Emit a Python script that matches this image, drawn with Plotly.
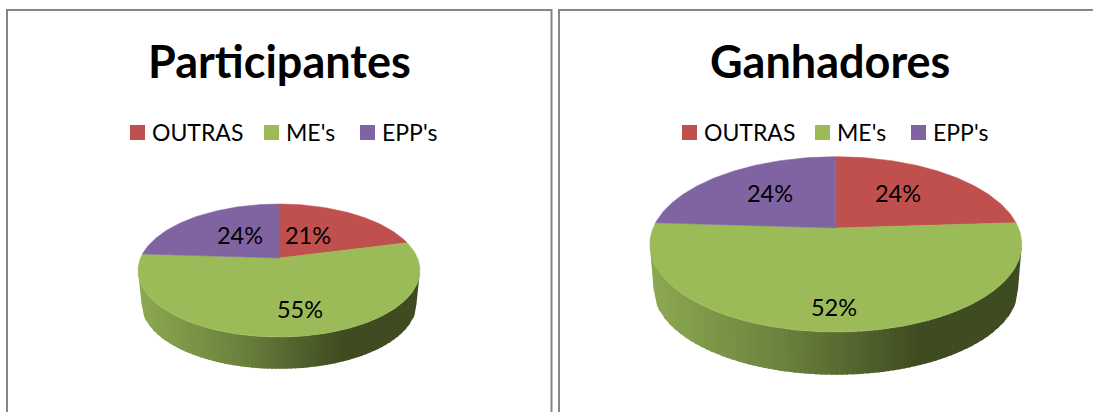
import numpy as np
import plotly.graph_objects as go

CATEGORIES = ["OUTRAS", "ME's", "EPP's"]
PARTICIPANTES = [21, 55, 24]
GANHADORES = [24, 52, 24]
TITLES = ["Participantes", "Ganhadores"]
COLORS = ["#C0504D", "#9BBB59", "#8064A2"]
FONT = "Lato"

# layout of each panel, in page pixels
PANELS = [
    dict(cx=279.0, y0=258.0, far=54.0, near=79.0, rx=141.0, depth=33.5, shrink=0.975,
         title_x=279, legend_sq=[137.5, 271.5, 367.5],
         label_xy=[(308, 238), (300, 312), (240, 238)]),
    dict(cx=835.8, y0=228.0, far=71.3, near=104.0, rx=186.0, depth=44.5, shrink=0.98,
         title_x=830, legend_sq=[689.5, 822.5, 918.5],
         label_xy=[(898, 196), (834, 310), (770, 196)]),
]
STOPS = [(0.0, (139, 168, 80)), (0.35, (106, 130, 62)), (0.72, (63, 75, 32)), (1.0, (63, 75, 32))]


def geometry(g):
    p = (g["near"] - g["far"]) / (g["near"] + g["far"])
    h = g["far"] * (1 + p)
    k = g["rx"] * np.sqrt(1 - p * p)
    return p, h, k


def wedge_points(g, a0, a1):
    p, h, k = geometry(g)
    th = np.radians(np.linspace(a0, a1, max(int(abs(a1 - a0)), 2) + 1))
    u, v = np.sin(th), np.cos(th)
    d = 1 + p * v
    xs = g["cx"] + k * u / d
    ys = g["y0"] - h * v / d
    return [g["cx"], *xs, g["cx"]], [g["y0"], *ys, g["y0"]]


def grad(t):
    for (t0, c0), (t1, c1) in zip(STOPS, STOPS[1:]):
        if t <= t1:
            f = (t - t0) / (t1 - t0)
            c = [round(a + (b - a) * f) for a, b in zip(c0, c1)]
            return f"rgb({c[0]},{c[1]},{c[2]})"
    return "rgb(63,75,32)"


fig = go.Figure()

for g, values in zip(PANELS, [PARTICIPANTES, GANHADORES]):
    p, h, k = geometry(g)
    ry = h / (1 - p * p)
    cy = g["y0"] + h * p / (1 - p * p)
    n = 70
    ts = np.linspace(-1, 1, n + 1)
    for i in range(n):
        t = np.linspace(ts[i], ts[i + 1] + 0.01 if i < n - 1 else ts[i + 1], 3)
        t = np.clip(t, -1, 1)
        s = np.sqrt(1 - t * t)
        xt = g["cx"] + g["rx"] * t
        yt = cy + ry * s
        xb = g["cx"] + g["rx"] * g["shrink"] * t
        yb = cy + g["depth"] + ry * g["shrink"] * s
        fig.add_trace(go.Scatter(
            x=[*xt, *xb[::-1], xt[0]], y=[*yt, *yb[::-1], yt[0]],
            mode="lines", fill="toself", fillcolor=grad((ts[i] + 1) / 2),
            line=dict(width=0), hoverinfo="skip", showlegend=False))
    total = sum(values)
    a = 0.0
    for val, color, name in zip(values, COLORS, CATEGORIES):
        a1 = a + 360.0 * val / total
        xs, ys = wedge_points(g, a, a1)
        fig.add_trace(go.Scatter(
            x=xs, y=ys, mode="lines", fill="toself", fillcolor=color,
            line=dict(width=0.5, color=color), name=name, showlegend=False, hoverinfo="name"))
        a = a1
    fig.add_trace(go.Scatter(
        x=[q[0] for q in g["label_xy"]], y=[q[1] for q in g["label_xy"]],
        mode="text", text=[f"{v}%" for v in values],
        textfont=dict(family=FONT, size=23.5, color="#000000"),
        textposition="middle center", hoverinfo="skip", showlegend=False))
    fig.add_trace(go.Scatter(
        x=g["legend_sq"], y=[132.5] * 3, mode="markers",
        marker=dict(symbol="square", size=15, color=COLORS, line=dict(width=0)),
        hoverinfo="skip", showlegend=False))
    for lx, name in zip(g["legend_sq"], CATEGORIES):
        fig.add_annotation(x=lx + 12.5, y=132, text=name, showarrow=False, xanchor="left",
                           yanchor="middle",
                           font=dict(family=FONT, size=23, color="#000000"))

for g, title in zip(PANELS, TITLES):
    fig.add_annotation(x=g["title_x"], y=61, text=f"<b>{title}</b>", showarrow=False,
                       xanchor="center", yanchor="middle",
                       font=dict(family=FONT, size=45, color="#000000"))

FRAME = "#868686"
fig.add_shape(type="path", path="M 7 420 L 7 10 L 551.5 10 L 551.5 420",
              line=dict(color=FRAME, width=2), layer="below")
fig.add_shape(type="path", path="M 559 420 L 559 10 L 1100 10",
              line=dict(color=FRAME, width=2), layer="below")

fig.update_layout(
    width=1093, height=412, margin=dict(l=0, r=0, t=0, b=0),
    paper_bgcolor="#FFFFFF", plot_bgcolor="#FFFFFF", showlegend=False,
    xaxis=dict(range=[0, 1093], visible=False, fixedrange=True),
    yaxis=dict(range=[412, 0], visible=False, fixedrange=True),
)
fig.write_html("out.html", config={"displayModeBar": False},
               post_script="document.body.style.margin='0';document.documentElement.style.overflow='hidden';")
